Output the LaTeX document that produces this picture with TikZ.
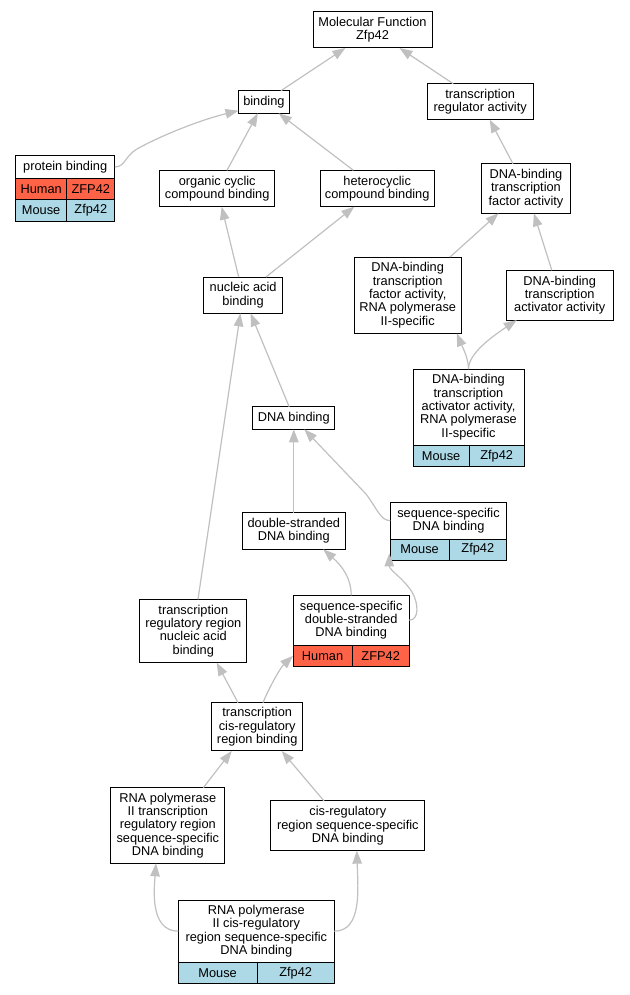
\documentclass[tikz,border=0pt]{standalone}
\usepackage{fontspec}
\setmainfont{Liberation Sans}
\usetikzlibrary{arrows.meta,calc}
\definecolor{edgegray}{HTML}{C0C0C0}
\definecolor{humanred}{HTML}{FF6347}
\definecolor{mouseblue}{HTML}{ADD8E6}

\begin{document}
\begin{tikzpicture}[x=1pt,y=-1pt,
	term/.style={draw=black, fill=white, line width=1pt, outer sep=0pt, inner sep=2pt, align=center, font=\fontsize{12.8}{13.3}\selectfont},
	humanrow/.style={term, fill=humanred, minimum height=21.5pt},
	mouserow/.style={term, fill=mouseblue, minimum height=21.5pt},
	isa/.style={draw=edgegray, line width=1.2pt, -{Triangle[length=13pt,width=9.5pt]}}]
	\useasboundingbox (0,0) rectangle (629,995);

	% Draw terms
	%Top
	\node[term, minimum width=119pt, minimum height=36pt] (mf) at (372.5,30) {Molecular Function\\Zfp42};
	\node[term, minimum width=50.8pt, minimum height=22.6pt] (binding) at (263.9,102) {binding};
	\node[term, minimum width=106.3pt, minimum height=36pt] (tra) at (480.2,101.7) {transcription\\regulator activity};

	%Protein binding with gene rows
	\node[term, minimum width=99.3pt, minimum height=22.6pt] (prot) at (65.2,167) {protein binding};
	\node[humanrow, minimum width=51.2pt, anchor=north west] (protH) at (prot.south west) {Human};
	\node[humanrow, minimum width=48.1pt, anchor=north east] (protHg) at (prot.south east) {ZFP42};
	\node[mouserow, minimum width=51.2pt, anchor=north west] (protM) at (protH.south west) {Mouse};
	\node[mouserow, minimum width=48.1pt, anchor=north east] (protMg) at (protHg.south east) {Zfp42};

	\node[term, minimum width=115pt, minimum height=36.4pt] (organic) at (217.2,188.5) {organic cyclic\\compound binding};
	\node[term, minimum width=114.3pt, minimum height=36.4pt] (hetero) at (377.2,188.5) {heterocyclic\\compound binding};
	\node[term, minimum width=89.4pt, minimum height=49.6pt] (dbtfa) at (526,188.5) {DNA-binding\\transcription\\factor activity};

	\node[term, minimum width=79.2pt, minimum height=36.3pt] (nucleic) at (243.1,295.2) {nucleic acid\\binding};
	\node[term, minimum width=106.7pt, minimum height=76.3pt] (dbtfa2) at (407.7,295.2) {DNA-binding\\transcription\\factor activity,\\RNA polymerase\\II-specific};
	\node[term, minimum width=107.3pt, minimum height=49.7pt] (dbtaa) at (559.7,295.2) {DNA-binding\\transcription\\activator activity};

	\node[term, minimum width=111pt, minimum height=76.3pt] (dbtaa2) at (468.5,407.2) {DNA-binding\\transcription\\activator activity,\\RNA polymerase\\II-specific};
	\node[mouserow, minimum width=56.3pt, anchor=north west] (dbtaa2M) at (dbtaa2.south west) {Mouse};
	\node[mouserow, minimum width=54.7pt, anchor=north east] (dbtaa2Mg) at (dbtaa2.south east) {Zfp42};

	%Middle
	\node[term, minimum width=81.7pt, minimum height=22.6pt] (dnab) at (293.8,418) {DNA binding};
	\node[term, minimum width=116.4pt, minimum height=36.7pt] (seqdna) at (448.5,520.7) {sequence-specific\\DNA binding};
	\node[mouserow, minimum width=58.7pt, minimum height=21pt, anchor=north west] (seqdnaM) at (seqdna.south west) {Mouse};
	\node[mouserow, minimum width=57.7pt, minimum height=21pt, anchor=north east] (seqdnaMg) at (seqdna.south east) {Zfp42};
	\node[term, minimum width=103pt, minimum height=36.6pt] (dsdna) at (293.8,531) {double-stranded\\DNA binding};

	\node[term, minimum width=106.7pt, minimum height=63.4pt] (trrnab) at (193.3,631) {transcription\\regulatory region\\nucleic acid\\binding};
	\node[term, minimum width=116.3pt, minimum height=49.7pt] (ssds) at (351.2,620.2) {sequence-specific\\double-stranded\\DNA binding};
	\node[humanrow, minimum width=59pt, anchor=north west] (ssdsH) at (ssds.south west) {Human};
	\node[humanrow, minimum width=57.3pt, anchor=north east] (ssdsHg) at (ssds.south east) {ZFP42};

	%Bottom
	\node[term, minimum width=91pt, minimum height=48.3pt] (tcis) at (257.2,726.8) {transcription\\cis-regulatory\\region binding};
	\node[term, minimum width=114.3pt, minimum height=75.6pt] (pol2trr) at (167.8,825.5) {RNA polymerase\\II transcription\\regulatory region\\sequence-specific\\DNA binding};
	\node[term, minimum width=154.3pt, minimum height=49.7pt] (cisreg) at (347.8,825.8) {cis-regulatory\\region sequence-specific\\DNA binding};
	\node[term, minimum width=156pt, minimum height=62.3pt] (pol2cis) at (256.3,931.2) {RNA polymerase\\II cis-regulatory\\region sequence-specific\\DNA binding};
	\node[mouserow, minimum width=78.7pt, anchor=north west] (pol2cisM) at (pol2cis.south west) {Mouse};
	\node[mouserow, minimum width=77.3pt, anchor=north east] (pol2cisMg) at (pol2cis.south east) {Zfp42};

	%Plot is_a edges
	\draw[isa] (binding) -- (mf);
	\draw[isa] (tra) -- (mf);
	\draw[isa] (prot.east) .. controls (125,167) and (125,156) .. (137,149) .. controls (160,136) and (200,120) .. ($(binding.south west)+(0,-2.6)$);
	\draw[isa] (organic) -- (binding);
	\draw[isa] (hetero) -- (binding);
	\draw[isa] (dbtfa) -- (tra);
	\draw[isa] (nucleic) -- (organic);
	\draw[isa] (nucleic) -- (hetero);
	\draw[isa] (dbtfa2) -- (dbtfa);
	\draw[isa] (dbtaa) -- (dbtfa);
	\draw[isa] (dbtaa2.north) .. controls (468.5,358) and (462,346) .. ($(dbtfa2.south east)+(-4.3,0)$);
	\draw[isa] (dbtaa2.north) .. controls (468.5,354) and (490,338) .. ($(dbtaa.south west)+(10.7,0)$);
	\draw[isa] (dnab) -- (nucleic);
	\draw[isa] (trrnab) -- (nucleic);
	\draw[isa] (dsdna) -- (dnab);
	\draw[isa] (seqdna.west) .. controls (380,520) and (378,510) .. (366,494) -- ($(dnab.south)+(10.5,0)$);
	\draw[isa] (ssds.north) .. controls (351.2,578) and (342,566) .. ($(dsdna.south)+(29.5,0)$);
	\draw[isa] (ssds.east) .. controls (419,620) and (419,604) .. (412,592) .. controls (403,578) and (389.3,570) .. ($(seqdnaM.west)+(-1,3.8)$);
	\draw[isa] ($(tcis.north)+(-19.2,0)$) -- ($(trrnab.south)+(23.4,0)$);
	\draw[isa] ($(tcis.north)+(5.8,0)$) .. controls (268,690) and (280,668) .. (ssdsH.west);
	\draw[isa] ($(pol2trr.north)+(35.5,0)$) -- ($(tcis.south)+(-25.5,0)$);
	\draw[isa] ($(cisreg.north)+(-23.8,0)$) -- ($(tcis.south)+(24.5,0)$);
	\draw[isa] (pol2cis.west) .. controls (150,931) and (154,890) .. ($(pol2trr.south)+(-11.8,0)$);
	\draw[isa] (pol2cis.east) .. controls (362,931) and (358,890) .. ($(cisreg.south)+(9,0)$);

\end{tikzpicture}
\end{document}
